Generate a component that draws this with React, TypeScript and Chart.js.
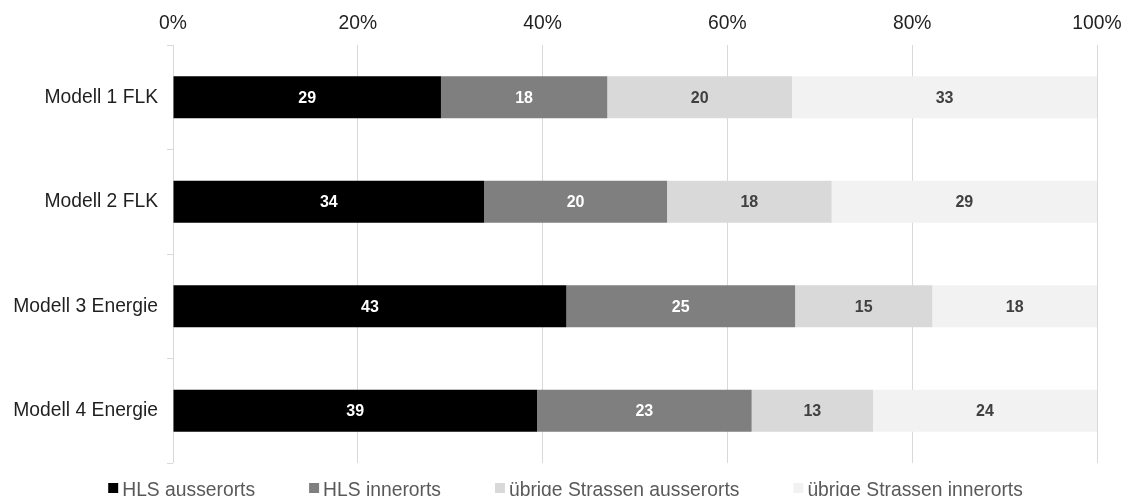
import React, { useEffect, useRef } from 'react';
import { Chart, registerables } from 'chart.js';

Chart.register(...registerables);

const categories = ['Modell 1 FLK', 'Modell 2 FLK', 'Modell 3 Energie', 'Modell 4 Energie'];
const seriesNames = ['HLS ausserorts', 'HLS innerorts', 'übrige Strassen ausserorts', 'übrige Strassen innerorts'];
const hlsAusserorts = [29, 34, 43, 39];
const hlsInnerorts = [18, 20, 25, 23];
const uebrigeAusserorts = [20, 18, 15, 13];
const uebrigeInnerorts = [33, 29, 18, 24];
const xTickValues = [0, 20, 40, 60, 80, 100];

const seriesValues = [hlsAusserorts, hlsInnerorts, uebrigeAusserorts, uebrigeInnerorts];
const barColors = ['#000000', '#7f7f7f', '#d9d9d9', '#f2f2f2'];
const valueLabelColors = ['#ffffff', '#ffffff', '#404040', '#404040'];
const FONT = '"Liberation Sans", Arial, sans-serif';

const rowSums = categories.map((_, j) => seriesValues.reduce((s, arr) => s + arr[j], 0));

const segmentLabels = {
  id: 'segmentLabels',
  afterDatasetsDraw(chart: any) {
    const ctx = chart.ctx;
    ctx.save();
    ctx.font = `bold 16px ${FONT}`;
    ctx.textAlign = 'center';
    ctx.textBaseline = 'middle';
    chart.data.datasets.forEach((_: any, i: number) => {
      const meta = chart.getDatasetMeta(i);
      meta.data.forEach((bar: any, j: number) => {
        const p = bar.getProps(['x', 'y', 'base'], true);
        ctx.fillStyle = valueLabelColors[i];
        ctx.fillText(String(seriesValues[i][j]), (p.x + p.base) / 2, p.y + 1);
      });
    });
    ctx.restore();
  },
};

const bottomLegend = {
  id: 'bottomLegend',
  afterDraw(chart: any) {
    const ctx = chart.ctx;
    ctx.save();
    ctx.font = `19.3px ${FONT}`;
    ctx.textAlign = 'left';
    ctx.textBaseline = 'alphabetic';
    const box = 10;
    const gap = 4;
    const itemGap = 54;
    const widths = seriesNames.map((n) => ctx.measureText(n).width);
    const total = widths.reduce((s, w) => s + box + gap + w, 0) + itemGap * (seriesNames.length - 1);
    let x = chart.width / 2 + 4 - total / 2;
    const baseline = chart.chartArea.bottom + 33;
    seriesNames.forEach((name, i) => {
      ctx.fillStyle = barColors[i];
      ctx.fillRect(x, baseline - 13, box, box);
      ctx.fillStyle = '#595959';
      ctx.fillText(name, x + box + gap, baseline);
      x += box + gap + widths[i] + itemGap;
    });
    ctx.restore();
  },
};

export default function App() {
  const canvasRef = useRef<HTMLCanvasElement | null>(null);

  useEffect(() => {
    if (!canvasRef.current) return;
    const chart = new Chart(canvasRef.current, {
      type: 'bar',
      data: {
        labels: categories,
        datasets: seriesNames.map((name, i) => ({
          label: name,
          data: seriesValues[i].map((v, j) => (v / rowSums[j]) * 100),
          backgroundColor: barColors[i],
          borderWidth: 0,
          barPercentage: 0.4,
          categoryPercentage: 1.0,
        })),
      },
      options: {
        indexAxis: 'y',
        responsive: false,
        animation: false,
        layout: { padding: { left: 0, right: 26, top: 0, bottom: 33 } },
        plugins: {
          legend: { display: false },
          tooltip: { enabled: false },
        },
        scales: {
          x: {
            position: 'top',
            stacked: true,
            min: 0,
            max: 100,
            afterBuildTicks: (scale: any) => {
              scale.ticks = xTickValues.map((v) => ({ value: v }));
            },
            ticks: {
              callback: (v: any) => `${v}%`,
              color: '#1f1f1f',
              font: { size: 19.3, family: FONT },
              padding: 10,
              maxRotation: 0,
              autoSkip: false,
            },
            grid: { color: '#d9d9d9', drawTicks: false, lineWidth: 1 },
            border: { display: false },
            afterFit: (scale: any) => {
              scale.height = 45;
              scale.paddingLeft = 0;
              scale.paddingRight = 0;
            },
          },
          y: {
            stacked: true,
            ticks: {
              color: '#1f1f1f',
              font: { size: 19.3, family: FONT },
              padding: 9,
            },
            grid: {
              offset: true,
              drawOnChartArea: false,
              drawTicks: true,
              tickLength: 6,
              color: '#d9d9d9',
            },
            border: { display: false },
            afterFit: (scale: any) => {
              scale.width = 173;
              scale.paddingTop = 0;
              scale.paddingBottom = 0;
            },
          },
        },
      },
      plugins: [segmentLabels, bottomLegend],
    });
    return () => chart.destroy();
  }, []);

  return (
    <div style={{ position: 'absolute', left: 0, top: 0, width: 1123, height: 496, background: '#ffffff' }}>
      <canvas ref={canvasRef} width={1123} height={496} style={{ display: 'block' }} />
    </div>
  );
}
